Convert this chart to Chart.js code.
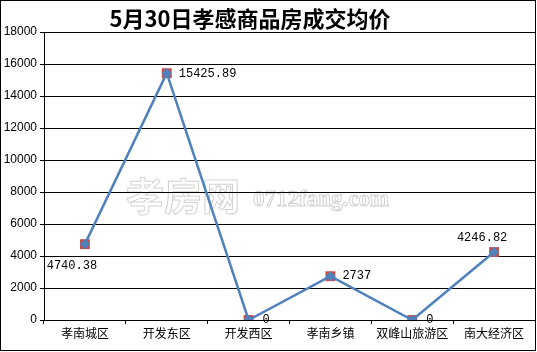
<!DOCTYPE html>
<html>
<head>
<meta charset="utf-8">
<script src="https://cdn.jsdelivr.net/npm/chart.js@4"></script>
<style>
  html, body { margin: 0; padding: 0; background: #fff; }
  #wrap { width: 534px; height: 349px; border: 1px solid #000; position: relative; }
</style>
</head>
<body>
<div id="wrap"><canvas id="priceChart" width="534" height="349"></canvas></div>
<script>
// 5月30日孝感商品房成交均价
const chartTitle = '5月30日孝感商品房成交均价';
const districts = ['孝南城区', '开发东区', '开发西区', '孝南乡镇', '双峰山旅游区', '南大经济区'];
const avgPrices = [4740.38, 15425.89, 0, 2737, 0, 4246.82];
const priceLabels = ['4740.38', '15425.89', '0', '2737', '0', '4246.82'];
const watermarkCn = '孝房网';
const watermarkEn = '0712fang.com';

// where each value label sits relative to its point
const labelPos = [
  { dx: -13, dy: 22, align: 'center' },
  { dx: 12, dy: 1, align: 'left' },
  { dx: 14, dy: 0, align: 'left' },
  { dx: 12, dy: 0, align: 'left' },
  { dx: 14, dy: 0, align: 'left' },
  { dx: -12, dy: -14, align: 'center' }
];

const extras = {
  id: 'extras',
  beforeDraw(chart) {
    const ctx = chart.ctx;
    ctx.save();
    ctx.strokeStyle = '#d2d2d2';
    ctx.lineWidth = 1;
    ctx.textBaseline = 'middle';
    ctx.textAlign = 'left';
    ctx.font = 'bold 38px "Noto Sans CJK SC"';
    ctx.strokeText(watermarkCn, 125, 195);
    ctx.font = 'bold 23px "Liberation Serif"';
    ctx.strokeText(watermarkEn, 252, 199);
    ctx.restore();
  },
  afterDatasetsDraw(chart) {
    const ctx = chart.ctx;
    const meta = chart.getDatasetMeta(0);
    ctx.save();
    ctx.fillStyle = '#000';
    ctx.textBaseline = 'middle';
    ctx.font = '12px "Liberation Mono"';
    meta.data.forEach((pt, i) => {
      const p = labelPos[i];
      ctx.textAlign = p.align;
      ctx.fillText(priceLabels[i], pt.x + p.dx, pt.y + p.dy);
    });
    ctx.fillStyle = '#000';
    ctx.textAlign = 'center';
    ctx.font = 'bold 22px "Noto Sans CJK SC"';
    ctx.fillText(chartTitle, 249, 18);
    ctx.restore();
  }
};

const ctx = document.getElementById('priceChart').getContext('2d');
new Chart(ctx, {
  type: 'line',
  data: {
    labels: districts,
    datasets: [{
      label: '均价',
      data: avgPrices,
      borderColor: '#4F81BD',
      borderWidth: 2.5,
      tension: 0,
      fill: false,
      pointStyle: 'rectRot',
      pointRadius: 5,
      pointBackgroundColor: '#4F81BD',
      pointBorderWidth: 0,
      order: 1
    }, {
      label: '标记',
      data: avgPrices,
      showLine: false,
      pointStyle: 'rect',
      pointRadius: 7,
      pointBackgroundColor: '#C0504D',
      pointBorderWidth: 0,
      order: 2
    }]
  },
  options: {
    responsive: false,
    animation: false,
    layout: { autoPadding: false, padding: { top: 31, right: 0, bottom: 0, left: 0 } },
    plugins: {
      legend: { display: false },
      tooltip: { enabled: false }
    },
    scales: {
      x: {
        offset: true,
        grid: { offset: true, drawOnChartArea: false, color: '#000', tickLength: 4 },
        border: { color: '#000', width: 1 },
        ticks: { color: '#000', font: { family: '"Noto Sans CJK SC"', size: 12 }, padding: 2, maxRotation: 0, autoSkip: false },
        afterFit(scale) { scale.height = 30; }
      },
      y: {
        min: 0,
        max: 18000,
        grid: { color: '#000', lineWidth: 1, tickLength: 4 },
        border: { color: '#000', width: 1 },
        ticks: { stepSize: 2000, color: '#000', font: { family: '"Liberation Sans"', size: 12 }, padding: 3, callback: v => String(v) },
        afterFit(scale) { scale.width = 43; }
      }
    }
  },
  plugins: [extras]
});
</script>
</body>
</html>
